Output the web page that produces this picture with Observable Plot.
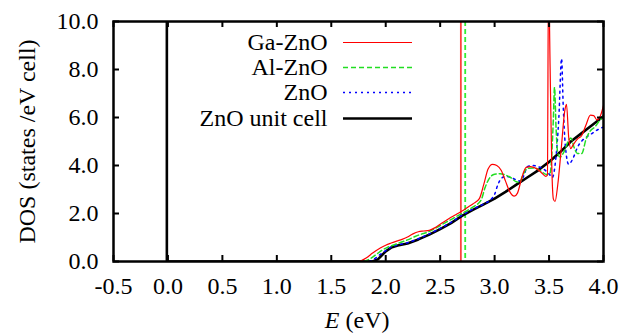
<!DOCTYPE html>
<html><head><meta charset="utf-8">
<script src="https://cdn.jsdelivr.net/npm/d3@7"></script>
<script src="https://cdn.jsdelivr.net/npm/@observablehq/plot@0.6"></script>
<style>body{margin:0;background:#fff;font-family:"Liberation Serif",serif}</style>
</head><body><div id="chart"></div>
<script>
// ---- data ----
const seriesNames = ["Ga-ZnO", "Al-ZnO", "ZnO", "ZnO unit cell"];
const seriesColors = ["#ff0000", "#22dd22", "#0000ff", "#000000"];
const seriesDash = [null, "5,3", "2,4", null];
const seriesWidth = [1.2, 1.5, 1.5, 2.6];

const gaE   = [1.76,1.82,1.88,1.95,2.0,2.05,2.1,2.15,2.2,2.25,2.3,2.35,2.4,2.45,2.5,2.55,2.6,2.65,2.7,2.75,2.8,2.86,2.9,2.94,2.98,3.02,3.06,3.1,3.14,3.18,3.21,3.25,3.29,3.33,3.38,3.43,3.47,3.485,3.495,3.51,3.525,3.54,3.555,3.58,3.61,3.645,3.66,3.68,3.7,3.72,3.76,3.8,3.84,3.88,3.91,3.94,3.97,4.0];
const gaDOS = [0,0.15,0.35,0.56,0.68,0.77,0.85,0.92,1.02,1.15,1.24,1.27,1.3,1.4,1.55,1.7,1.84,1.97,2.1,2.25,2.4,2.62,3.2,3.85,4.05,4.0,3.8,3.35,2.9,2.72,2.85,3.5,3.92,3.95,3.88,3.7,3.55,3.6,12,8,4,2.6,2.5,3.2,4.6,6.3,6.55,5.2,4.7,4.85,5.1,5.25,5.7,6.1,6.08,5.9,6.05,6.5];

const alE   = [1.80,1.86,1.92,1.97,2.02,2.08,2.14,2.2,2.26,2.32,2.38,2.44,2.5,2.56,2.62,2.68,2.74,2.8,2.85,2.88,2.91,2.95,3.0,3.05,3.1,3.15,3.2,3.23,3.26,3.3,3.36,3.42,3.48,3.51,3.54,3.55,3.565,3.58,3.6,3.64,3.68,3.7,3.73,3.76,3.8,3.84,3.88,3.92,3.96,4.0];
const alDOS = [0,0.12,0.32,0.48,0.6,0.7,0.8,0.9,1.02,1.13,1.21,1.34,1.5,1.65,1.8,1.95,2.1,2.27,2.42,2.6,3.05,3.45,3.64,3.66,3.6,3.49,3.32,3.3,3.6,3.88,3.9,3.78,3.62,3.7,6.0,7.25,5.5,4.5,4.35,4.6,5.05,5.15,4.75,4.5,4.5,5.1,5.45,5.6,5.85,6.05];

const znoE   = [1.85,1.9,1.95,2.0,2.05,2.1,2.2,2.3,2.4,2.5,2.6,2.7,2.8,2.9,2.97,3.0,3.03,3.06,3.1,3.15,3.2,3.24,3.27,3.3,3.35,3.4,3.45,3.5,3.53,3.56,3.59,3.615,3.63,3.65,3.68,3.72,3.76,3.8,3.85,3.9,3.95,4.0];
const znoDOS = [0,0.12,0.3,0.45,0.6,0.68,0.78,0.95,1.15,1.38,1.63,1.93,2.18,2.4,2.6,2.8,3.2,3.45,3.55,3.5,3.4,3.35,3.6,3.95,4.0,3.95,3.85,3.65,3.5,4.2,6.0,8.45,6.5,4.8,4.05,4.3,4.75,5.02,5.2,5.35,5.5,5.6];

const cellE   = [-0.01,-0.01,1.88,1.93,2.0,2.05,2.11,2.2,2.3,2.4,2.5,2.6,2.7,2.8,2.9,3.0,3.1,3.2,3.3,3.4,3.5,3.6,3.7,3.8,3.9,4.0];
const cellDOS = [12,0,0,0.1,0.42,0.58,0.67,0.75,0.92,1.12,1.35,1.6,1.9,2.15,2.38,2.62,2.9,3.2,3.5,3.8,4.15,4.55,5.0,5.35,5.7,6.05];

const fermiLevels = [2.69, 2.73]; // Ga-ZnO, Al-ZnO
const xTicks = [-0.5,0,0.5,1,1.5,2,2.5,3,3.5,4];
const yTicks = [0,2,4,6,8,10];

// ---- build tables ----
const allE = [gaE, alE, znoE, cellE];
const allDOS = [gaDOS, alDOS, znoDOS, cellDOS];
const fmt = d => d.toFixed(1);
const FONT = "Liberation Serif";
const FS = 24;

const W = 622, H = 335;
const mL = 113, mR = 19, mT = 21, mB = 74;
const pw = W - mL - mR, ph = H - mT - mB;

const marks = [];
// fermi levels
marks.push(Plot.ruleX([fermiLevels[0]], {stroke: "#ff4040", strokeWidth: 1.8}));
marks.push(Plot.ruleX([fermiLevels[1]], {stroke: "#33ee33", strokeWidth: 1.8, strokeDasharray: "5,3"}));
// curves (draw black last)
[3,2,1,0].forEach(i => {
  const tbl = allE[i].map((e, j) => ({E: e, DOS: allDOS[i][j]}));
  marks.push(Plot.line(tbl, {x: "E", y: "DOS", stroke: seriesColors[i], strokeWidth: seriesWidth[i],
    strokeDasharray: seriesDash[i], curve: i === 3 ? "linear" : "monotone-x", clip: true}));
});
// inner ticks on all four sides
marks.push(Plot.tickX(xTicks, {x: d => d, insetTop: ph - 6, strokeWidth: 2}));
marks.push(Plot.tickX(xTicks, {x: d => d, insetBottom: ph - 6, strokeWidth: 2}));
marks.push(Plot.tickY(yTicks, {y: d => d, insetRight: pw - 6, strokeWidth: 2}));
marks.push(Plot.tickY(yTicks, {y: d => d, insetLeft: pw - 6, strokeWidth: 2}));
marks.push(Plot.frame({stroke: "black", strokeWidth: 2.5}));
// axes
marks.push(Plot.axisX(xTicks, {anchor: "bottom", tickSize: 0, tickPadding: 15, tickFormat: fmt, label: null, fontSize: FS, fontFamily: FONT}));
marks.push(Plot.axisY(yTicks, {anchor: "left", tickSize: 0, tickPadding: 15, tickFormat: fmt, label: null, fontSize: FS, fontFamily: FONT}));
// axis titles
marks.push(Plot.text(["E"], {frameAnchor: "bottom", text: d => d, dx: -19, dy: 66, textAnchor: "end", lineAnchor: "bottom", fontStyle: "italic", fontSize: FS, fontFamily: FONT}));
marks.push(Plot.text(["(eV)"], {frameAnchor: "bottom", text: d => d, dx: -13, dy: 66, textAnchor: "start", lineAnchor: "bottom", fontSize: FS, fontFamily: FONT}));
marks.push(Plot.text(["DOS (states /eV cell)"], {frameAnchor: "left", text: d => d, dx: -86, rotate: -90, textAnchor: "middle", lineAnchor: "middle", fontSize: FS, fontFamily: FONT}));
// legend
seriesNames.forEach((name, i) => {
  const rowDy = [21, 46, 71, 97][i];
  marks.push(Plot.text([name], {frameAnchor: "top-left", text: d => d, dx: 214, dy: rowDy, textAnchor: "end", lineAnchor: "middle", fontSize: FS, fontFamily: FONT}));
  marks.push(Plot.ruleY([10], {dy: rowDy, insetLeft: 230, insetRight: 191, stroke: seriesColors[i],
    strokeWidth: seriesWidth[i], strokeDasharray: seriesDash[i]}));
});

const chart = Plot.plot({
  width: W, height: H,
  marginLeft: mL, marginRight: mR, marginTop: mT, marginBottom: mB,
  style: "font-family: 'Liberation Serif', serif; font-size: 24px;",
  x: {domain: [-0.5, 4], axis: null},
  y: {domain: [0, 10], axis: null},
  marks
});
// force the serif face on every text node (root, groups and texts)
chart.setAttribute("font-family", FONT);
chart.querySelectorAll("g, text, tspan").forEach(el => {
  el.setAttribute("font-family", FONT);
  el.style.fontFamily = "'Liberation Serif', serif";
});
document.getElementById("chart").appendChild(chart);
</script>
</body></html>
